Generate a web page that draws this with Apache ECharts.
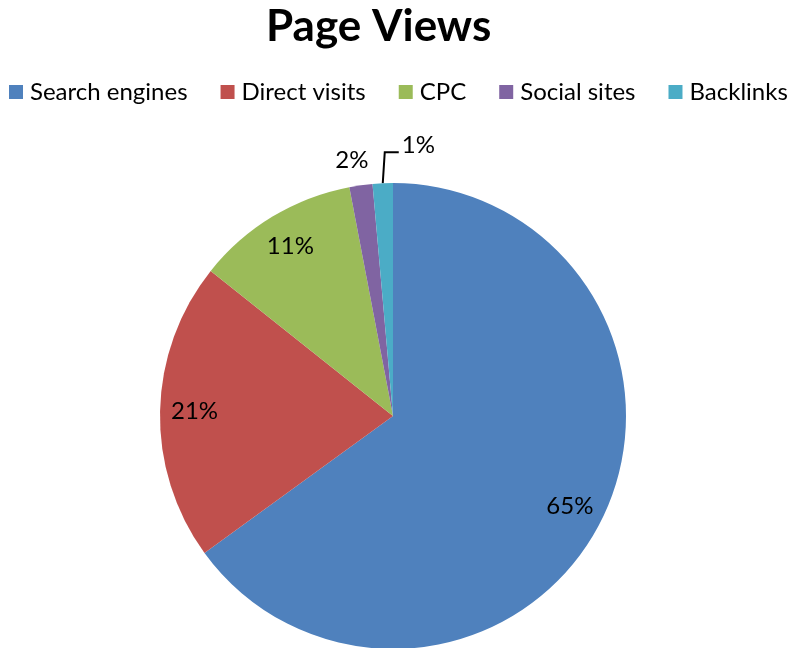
<!DOCTYPE html>
<html><head><meta charset="utf-8">
<script src="https://cdn.jsdelivr.net/npm/echarts@6/dist/echarts.min.js"></script>
<style>html,body{margin:0;padding:0;background:#fff}#c{width:789px;height:648px}</style>
</head><body><div id="c"></div>
<script>
const titleText = 'Page Views';
const categories = ['Search engines', 'Direct visits', 'CPC', 'Social sites', 'Backlinks'];
const values = [65.0, 20.7, 11.3, 1.6, 1.4];
const colors = ['#4F81BD', '#C0504D', '#9BBB59', '#8064A2', '#4BACC6'];
const insideLabel = [true, true, true, false, false];

const FONT = 'Lato';
const chart = echarts.init(document.getElementById('c'), null, {renderer: 'canvas'});
const total = values.reduce((a, b) => a + b, 0);
const fmt = p => Math.round(p.value / total * 100) + '%';
const CX = 393, CY = 416, R = 233;

const mainData = categories.map((n, i) => ({
  name: n, value: values[i], itemStyle: {color: colors[i]},
  label: {show: !insideLabel[i]},
  labelLine: {show: i === 4}
}));
const overlayData = categories.map((n, i) => ({
  name: n, value: values[i], itemStyle: {color: 'rgba(0,0,0,0)'},
  label: {show: insideLabel[i]}
}));

chart.setOption({
  animation: false,
  color: colors,
  title: {text: titleText, left: 261, top: 0,
    textStyle: {fontFamily: FONT, fontWeight: 'bold', fontSize: 44, color: '#000'}},
  legend: {top: 80, left: 9, width: 780, padding: 0, itemWidth: 14, itemHeight: 14, itemGap: 33,
    icon: 'rect', selectedMode: false,
    textStyle: {fontFamily: FONT, fontSize: 24, color: '#000', padding: [0, 0, 0, 2]},
    data: categories},
  series: [{
    type: 'pie', radius: R, center: [CX, CY], startAngle: 90, clockwise: true,
    avoidLabelOverlap: false, silent: true,
    itemStyle: {borderColor: '#fff', borderWidth: 0},
    label: {position: 'outside', formatter: fmt, fontFamily: FONT, fontSize: 24, color: '#000'},
    labelLine: {length: 14, length2: 0, lineStyle: {color: '#000', width: 2}},
    labelLayout: function (p) {
      const pts = p.labelLinePoints;
      if (!pts) return {};
      if (p.dataIndex === 4) {
        const p0 = pts[0];
        const p1 = [p0[0] + 2, p0[1] - 31];
        const p2 = [p1[0] + 14, p1[1]];
        return {x: p2[0] + 3, y: p2[1] - 7, align: 'left', verticalAlign: 'middle',
          labelLinePoints: [p0, p1, p2]};
      }
      if (p.dataIndex === 3) {
        return {x: pts[0][0] - 9, y: pts[0][1] - 25, align: 'center', verticalAlign: 'middle'};
      }
      return {};
    },
    data: mainData
  }, {
    type: 'pie', radius: [R - 75, R - 0], center: [CX, CY], startAngle: 90, clockwise: true,
    avoidLabelOverlap: false, silent: true,
    label: {position: 'inside', formatter: fmt, fontFamily: FONT, fontSize: 24, color: '#000'},
    labelLine: {show: false},
    data: overlayData
  }]
});
</script></body></html>
